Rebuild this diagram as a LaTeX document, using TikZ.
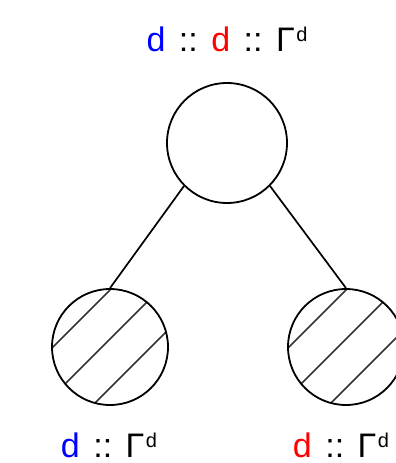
\documentclass[tikz,border=0pt]{standalone}
\usepackage{fontspec}
\setmainfont{Liberation Sans}
\usetikzlibrary{calc}
\definecolor{dblue}{RGB}{0,0,255}
\definecolor{dred}{RGB}{255,0,0}
\newcommand\lsep{\hspace{13.5pt}}
\newcommand\gsup{Γ\hspace{1.5pt}\raisebox{10pt}{\fontsize{20}{20}\selectfont d}}
\begin{document}
\begin{tikzpicture}[x=1pt,y=-1pt,
  blob/.style={circle, draw, line width=1.8pt, inner sep=0pt, minimum size=#1},
  hatchline/.style={line width=1.5pt, black!80},
  edge/.style={line width=1.7pt},
  lbl/.style={anchor=base, inner sep=0pt, font=\fontsize{34}{40}\selectfont}]
\clip (0,0) rectangle (396,463);
\coordinate (tcc) at (227,143);
\coordinate (lcc) at (110,347);
\coordinate (rcc) at (346,347);
% hatching
\foreach \c in {lcc,rcc} {
  \begin{scope}
    \clip (\c) circle[radius=58];
    \foreach \d in {-57,-8,41}
      \draw[hatchline] ($(\c)+(\d/2-90,\d/2+90)$) -- ($(\c)+(\d/2+90,\d/2-90)$);
  \end{scope}
}
\node[blob=120] (tc) at (tcc) {};
\node[blob=116] (lc) at (lcc) {};
\node[blob=116] (rc) at (rcc) {};
\draw[edge] (tc.225) -- (lc.90);
\draw[edge] (tc.315) -- (rc.90);
\node[lbl] (tl) at (227,51) {\textcolor{dblue}{d}\lsep::\lsep\textcolor{dred}{d}\lsep::\lsep\gsup};
\node[lbl] (ll) at (109,457) {\textcolor{dblue}{d}\lsep::\lsep\gsup};
\node[lbl] (rl) at (341,457) {\textcolor{dred}{d}\lsep::\lsep\gsup};
\end{tikzpicture}
\end{document}
